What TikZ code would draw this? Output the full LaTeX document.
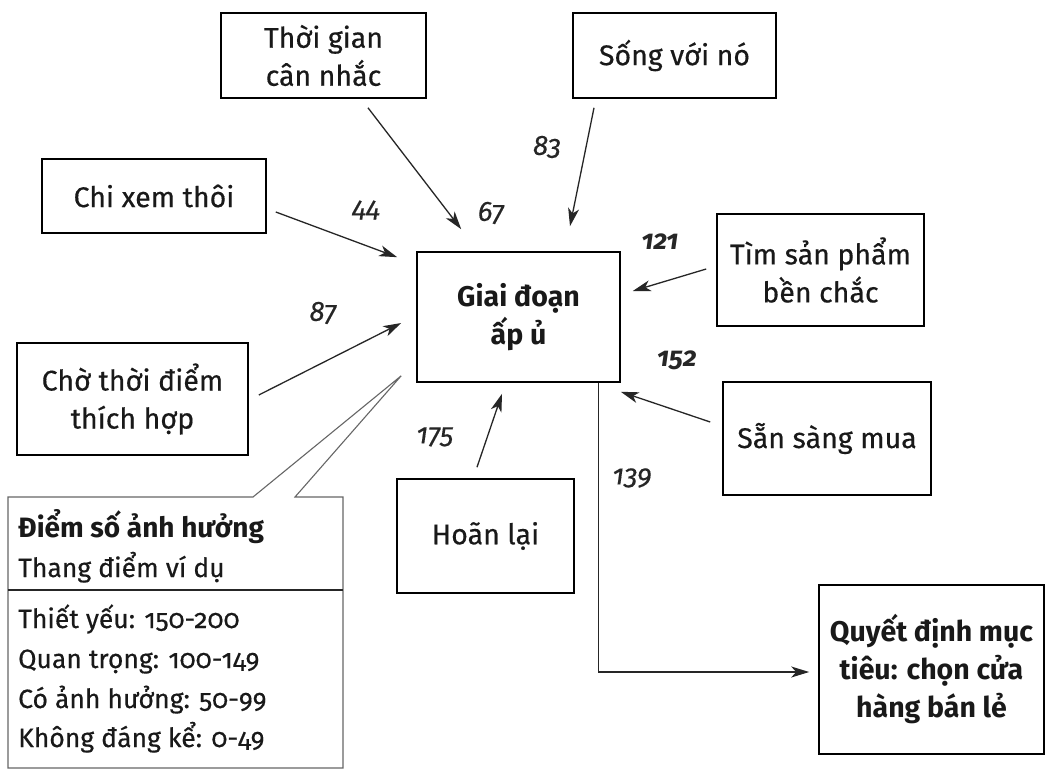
\documentclass[tikz,border=0pt]{standalone}
\usepackage{fontspec}
\setmainfont{Fira Sans}[Numbers=OldStyle, UprightFeatures={FakeBold=0.4}, ItalicFeatures={FakeBold=0.3}]
\usetikzlibrary{arrows.meta,calc}
\newcommand\boxfont{\fontsize{28.5}{38}\selectfont}
\newcommand\legfont{\fontsize{26.5}{40}\selectfont}
\begin{document}
\begin{tikzpicture}[x=1pt,y=-1pt,
  box/.style={draw=black, line width=1.6pt, align=center, font=\boxfont, inner sep=0pt, text=black!90},
  hubbox/.style={box, font=\boxfont\bfseries},
  arr/.style={-{Stealth[length=18pt,width=11pt,inset=5pt]}, line width=1.3pt, draw=black!85},
  num/.style={font=\fontsize{28}{30}\selectfont\itshape, text=black!85, inner sep=0pt},
  numb/.style={num, font=\fontsize{27}{30}\selectfont\bfseries\itshape},
  leg/.style={anchor=base west, font=\legfont, inner sep=0pt, text=black!90},
  callout/.style={draw=black!60, line width=1.1pt}]
\useasboundingbox (0,0) rectangle (1045,771);
\fill[white] (0,0) rectangle (1045,771);

% boxes
\node[hubbox, minimum width=203pt, minimum height=130pt] (hub) at (518.5,317) {Giai đoạn\\ấp ủ};
\node[box, minimum width=205pt, minimum height=85pt] (tg) at (323.5,55.5) {Thời gian\\cân nhắc};
\node[box, minimum width=203pt, minimum height=85pt] (sv) at (674.5,55.5) {Sống với nó};
\node[box, minimum width=224pt, minimum height=74pt] (cx) at (154,196) {Chi xem thôi};
\node[box, minimum width=231pt, minimum height=112pt] (ch) at (132.5,399) {Chờ thời điểm\\thích hợp};
\node[box, minimum width=207pt, minimum height=112pt] (tm) at (820.5,270) {Tìm sản phẩm\\bền chắc};
\node[box, minimum width=208pt, minimum height=113pt] (ss) at (827,438.5) {Sẵn sàng mua};
\node[box, minimum width=177pt, minimum height=114pt] (hl) at (485.5,536) {Hoãn lại};
\node[hubbox, minimum width=225pt, minimum height=169pt] (qd) at (931.5,669.5) {Quyết định mục\\tiêu: chọn cửa\\hàng bán lẻ};

% arrows into hub
\draw[arr] ($(tg.south)+(44.5,9)$) -- ($(hub.north west)+(45,-22)$);
\draw[arr] ($(sv.south)+(-80.5,9)$) -- ($(hub.north)+(51.5,-25)$);
\draw[arr] ($(cx.east)+(9,16)$) -- ($(hub.north west)+(-19,6)$);
\draw[arr] ($(ch.east)+(10,-4)$) -- ($(hub.west)+(-15,6)$);
\draw[arr] ($(tm.west)+(-10,-1)$) -- ($(hub.east)+(12,-26)$);
\draw[arr] ($(ss.west)+(-12,-16.5)$) -- ($(hub.south east)+(0,9)$);
\draw[arr] ($(hl.north)+(-8.5,-11)$) -- ($(hub.south)+(-16.5,11)$);
\draw[arr] ($(hub.south east)+(-22,0)$) |- ($(qd.west)+(-9,2.5)$);

% numbers
\node[num] (n44) at (366,210) {44};
\node[num] (n67) at (491,213) {67};
\node[num] (n83) at (547,147) {83};
\node[num] (n87) at (323,313) {87};
\node[numb] (n121) at (660,242) {121};
\node[numb] (n152) at (677,360) {152};
\node[num] (n175) at (435,437) {175};
\node[num] (n139) at (632,478) {139};

% legend callout
\coordinate (cp) at ($(hub.south west)+(-15,-7)$);
\draw[callout] (cp) -- (253,497) -- (8,497) -- (8,768) -- (343,768) -- (343,497) -- (295,497) -- cycle;
\draw[line width=1.5pt, black!85] (8,590) -- (343,590);
\node[leg, font=\fontsize{28}{40}\selectfont\bfseries] (lh) at (18,537) {Điểm số ảnh hưởng};
\node[leg] (ls) at (18,577) {Thang điểm ví dụ};
\node[leg] (l1) at (18,628) {Thiết yếu: 150-200};
\node[leg] (l2) at (18,668) {Quan trọng: 100-149};
\node[leg] (l3) at (18,708) {Có ảnh hưởng: 50-99};
\node[leg] (l4) at (18,747) {Không đáng kể: 0-49};
\end{tikzpicture}
\end{document}
